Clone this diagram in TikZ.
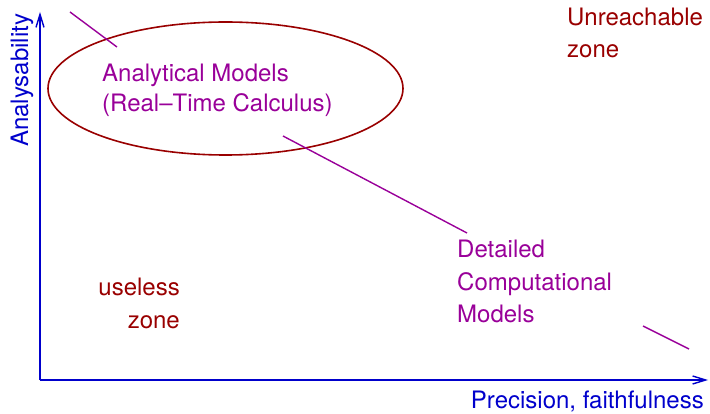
\documentclass[tikz,border=0pt]{standalone}
\usepackage{fontspec}
\setmainfont{TeX Gyre Heros}
\usetikzlibrary{arrows.meta,shapes.geometric}
\definecolor{axisblue}{RGB}{0,0,204}
\definecolor{zonered}{RGB}{153,0,0}
\definecolor{modelpurple}{RGB}{153,0,153}
\tikzset{
  axis/.style={draw=axisblue, line width=1.4pt, -{Straight Barb[length=13pt,width=8pt]}},
  axislabel/.style={text=axisblue, font=\fontsize{24}{30}\selectfont, inner sep=0pt},
  zonelabel/.style={text=zonered, font=\fontsize{24}{32.5}\selectfont, inner sep=0pt},
  modellabel/.style={text=modelpurple, font=\fontsize{24}{32.5}\selectfont, inner sep=0pt},
  trend/.style={draw=modelpurple, line width=1.4pt},
  regionellipse/.style={ellipse, draw=zonered, line width=1.6pt, inner sep=0pt}
}
\begin{document}
\begin{tikzpicture}[x=1pt,y=-1pt]
  \useasboundingbox (0,0) rectangle (710,414);
  % axes
  \coordinate (origin) at (40,380);
  \coordinate (ytop) at (40,12);
  \coordinate (xend) at (708,380);
  \draw[axis] (origin) -- (ytop);
  \draw[axis] (origin) -- (xend);
  \node[axislabel, rotate=90, anchor=base west] (ylab) at (28,147) {Analysability};
  \node[axislabel, anchor=base east] (xlab) at (704,408) {Precision, faithfulness};
  % region of analytical models
  \node[regionellipse, minimum width=355pt, minimum height=133pt] (ell) at (225.5,88.5) {};
  \node[modellabel, anchor=base west, align=left, font=\fontsize{24}{30}\selectfont] (ana) at (102,112)
    {Analytical Models\\(Real\textendash Time Calculus)};
  \node[modellabel, anchor=base west, align=left] (det) at (457,323)
    {Detailed\\Computational\\Models};
  \node[zonelabel, anchor=base west, align=left] (unr) at (567,58)
    {Unreachable\\zone};
  \node[zonelabel, anchor=base east, align=right] (use) at (180,328)
    {useless\\zone};
  % trend line between the two kinds of models
  \coordinate (t1) at (70,12);
  \coordinate (t2) at (117,47);
  \coordinate (t3) at (283,136);
  \coordinate (t4) at (467,233);
  \coordinate (t5) at (643,326);
  \coordinate (t6) at (689,349);
  \draw[trend] (t1) -- (t2);
  \draw[trend] (t3) -- (t4);
  \draw[trend] (t5) -- (t6);
\end{tikzpicture}
\end{document}
